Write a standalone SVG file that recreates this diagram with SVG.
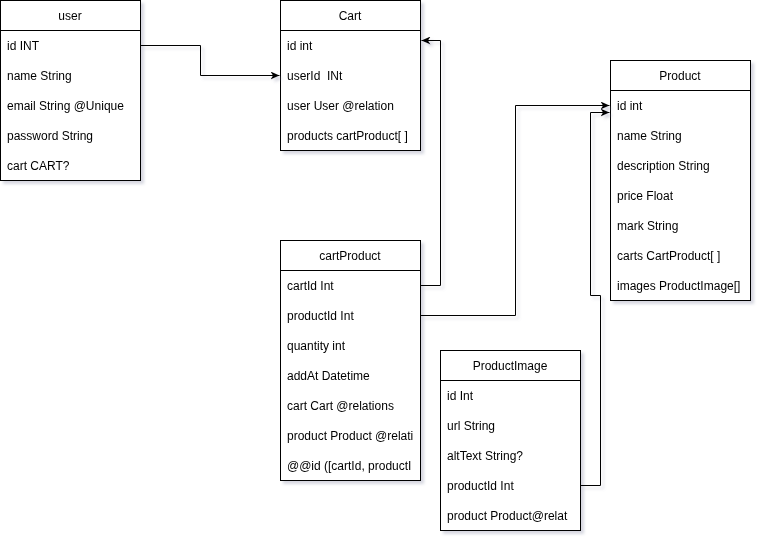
<svg xmlns="http://www.w3.org/2000/svg" width="762" height="542" viewBox="0 0 762 542">
  <defs>
    <filter id="shadow" x="-10%" y="-10%" width="130%" height="130%">
      <feDropShadow dx="3" dy="3" stdDeviation="1.5" flood-color="#8a8fa8" flood-opacity="0.35"/>
    </filter>
    <marker id="arrow" markerWidth="10" markerHeight="8" refX="9" refY="4" orient="auto" markerUnits="userSpaceOnUse">
      <path d="M0,0 L9,4 L0,8 L2.5,4 Z" fill="#000"/>
    </marker>
    <style>
      .box { fill: #fff; stroke: #000; stroke-width: 1; }
      .sep { stroke: #000; stroke-width: 1; }
      text { font-family: "Liberation Sans", Arial, sans-serif; font-size: 12px; fill: #000; }
      .title { text-anchor: middle; }
      .edge { fill: none; stroke: #000; stroke-width: 1; }
    </style>
  </defs>
  <rect width="762" height="542" fill="#fff"/>

  <g id="user" filter="url(#shadow)">
    <rect class="box" x="0.5" y="0.5" width="140" height="180"/>
    <line class="sep" x1="0.5" y1="30.5" x2="140.5" y2="30.5"/>
    <text class="title" x="70" y="19.5">user</text>
    <text x="7" y="49.5">id INT</text>
    <text x="7" y="79.5">name String</text>
    <text x="7" y="109.5">email String @Unique</text>
    <text x="7" y="139.5">password String</text>
    <text x="7" y="169.5">cart CART?</text>
  </g>

  <g id="cart" filter="url(#shadow)">
    <rect class="box" x="280.5" y="0.5" width="140" height="150"/>
    <line class="sep" x1="280.5" y1="30.5" x2="420.5" y2="30.5"/>
    <text class="title" x="350" y="19.5">Cart</text>
    <text x="287" y="49.5">id int</text>
    <text x="287" y="79.5" xml:space="preserve">userId  INt</text>
    <text x="287" y="109.5">user User @relation</text>
    <text x="287" y="139.5">products cartProduct[ ]</text>
  </g>

  <g id="product" filter="url(#shadow)">
    <rect class="box" x="610.5" y="60.5" width="140" height="240"/>
    <line class="sep" x1="610.5" y1="90.5" x2="750.5" y2="90.5"/>
    <text class="title" x="680" y="79.5">Product</text>
    <text x="617" y="109.5">id int</text>
    <text x="617" y="139.5">name String</text>
    <text x="617" y="169.5">description String</text>
    <text x="617" y="199.5">price Float</text>
    <text x="617" y="229.5">mark String</text>
    <text x="617" y="259.5">carts CartProduct[ ]</text>
    <text x="617" y="289.5">images ProductImage[]</text>
  </g>

  <g id="cartProduct" filter="url(#shadow)">
    <rect class="box" x="280.5" y="240.5" width="140" height="240"/>
    <line class="sep" x1="280.5" y1="270.5" x2="420.5" y2="270.5"/>
    <text class="title" x="350" y="259.5">cartProduct</text>
    <text x="287" y="289.5">cartId Int</text>
    <text x="287" y="319.5">productId Int</text>
    <text x="287" y="349.5">quantity int</text>
    <text x="287" y="379.5">addAt Datetime</text>
    <text x="287" y="409.5">cart Cart @relations</text>
    <text x="287" y="439.5">product Product @relati</text>
    <text x="287" y="469.5">@@id ([cartId, productI</text>
  </g>

  <g id="productImage" filter="url(#shadow)">
    <rect class="box" x="440.5" y="350.5" width="140" height="180"/>
    <line class="sep" x1="440.5" y1="380.5" x2="580.5" y2="380.5"/>
    <text class="title" x="510" y="369.5">ProductImage</text>
    <text x="447" y="399.5">id Int</text>
    <text x="447" y="429.5">url String</text>
    <text x="447" y="459.5">altText String?</text>
    <text x="447" y="489.5">productId Int</text>
    <text x="447" y="519.5">product Product@relat</text>
  </g>

  <g id="connectors" filter="url(#shadow)">
    <path class="edge" d="M140.5,45.5 H200.5 V75.5 H279.5" marker-end="url(#arrow)"/>
    <path class="edge" d="M420.5,285.5 H440.5 V40.5 H421.5" marker-end="url(#arrow)"/>
    <path class="edge" d="M420.5,315.5 H515.5 V105.5 H609.5" marker-end="url(#arrow)"/>
    <path class="edge" d="M580.5,485.5 H600.5 V295.5 H590.5 V112.5 H609.5" marker-end="url(#arrow)"/>
  </g>
</svg>
